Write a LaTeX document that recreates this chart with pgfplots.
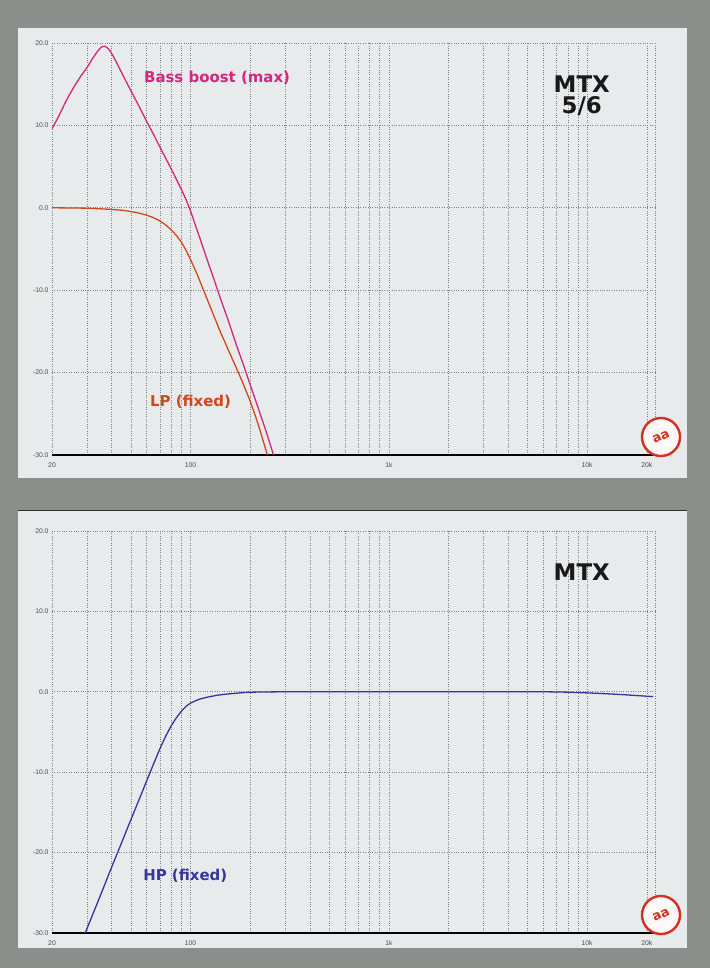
\documentclass[border=0pt]{standalone}
\usepackage{pgfplots}
\pgfplotsset{compat=1.18}
\usepackage{fontspec}
\setmainfont{Liberation Sans}
\newfontfamily\labfont{DejaVu Sans}
\definecolor{bgout}{HTML}{8C8E8C}
\definecolor{panel}{HTML}{E8EBEB}
\definecolor{bass}{HTML}{D3267E}
\definecolor{lp}{HTML}{D2461C}
\definecolor{hp}{HTML}{36369A}
\definecolor{gridc}{HTML}{7E8080}
\definecolor{logo}{HTML}{D8301E}

\pgfplotsset{
 scale only axis, width=603bp,
 xmin=20, xmax=22000, ymin=-30, ymax=20,
 xtick={20,100,1000,10000,20000}, xticklabels={20,100,1k,10k,20k},
 minor xtick={30,40,50,60,70,80,90,200,300,400,500,600,700,800,900,2000,3000,4000,5000,6000,7000,8000,9000,22000},
 ytick={-30,-20,-10,0,10,20}, yticklabels={-30.0,-20.0,-10.0,0.0,10.0,20.0},
 grid=both,
 major grid style={gridc, dotted, line width=0.6bp},
 minor grid style={gridc, dotted, line width=0.6bp},
 axis x line*=bottom, axis y line*=left,
 x axis line style={black, line width=1.3bp},
 y axis line style={draw=none},
 major tick length=0pt, minor tick length=0pt,
 tick label style={font=\fontsize{6.8}{7}\selectfont, text=black!70},
 xticklabel style={yshift=-4bp},
}

\begin{document}
\begin{tikzpicture}[x=1bp,y=1bp]
\fill[bgout] (0,0) rectangle (710,968);
\fill[panel] (18,490) rectangle (687,940);
\fill[panel] (18,20) rectangle (687,458);
\draw[black!80, line width=0.8bp] (18,458) -- (687,458);

% ---------- top panel ----------
\begin{axis}[xmode=log, height=412bp, at={(52bp,513bp)}, anchor=south west]
\addplot[bass, line width=1.3bp, smooth, tension=0.3] coordinates {
 (20,9.6) (21.5,11.0) (23.6,13.0) (26,14.8) (28,16.0) (30,17.0) (32,18.1) (34,19.0)
 (35.5,19.5) (37,19.6) (38.5,19.3) (40.5,18.5) (43,17.3) (46,15.9) (50,14.2) (55,12.3)
 (60,10.5) (66,8.6) (72,6.8) (78,5.2) (85,3.4) (90,2.2) (95,0.95) (100,-0.4) (105,-1.9)
 (110,-3.3) (120,-6.0) (130,-8.4) (140,-10.7) (155,-13.7) (170,-16.6) (185,-19.1)
 (200,-21.5) (220,-24.4) (240,-27.1) (262,-30)};
\addplot[lp, line width=1.3bp, smooth, tension=0.3] coordinates {
 (20,0) (30,-0.05) (40,-0.2) (45,-0.3) (50,-0.45) (55,-0.65) (60,-0.9) (65,-1.2)
 (70,-1.6) (75,-2.1) (80,-2.7) (85,-3.4) (90,-4.2) (95,-5.2) (100,-6.3) (108,-8.1)
 (116.6,-10.1) (128,-12.5) (141,-15) (160,-18) (178.6,-20.6) (200,-23.5) (220,-26.4) (244,-30)};
\node[anchor=east, font=\fontsize{6.8}{7}\selectfont, text=black!70, inner sep=2bp] at (axis cs:20,15) {dBRel};
\node[anchor=north, font=\fontsize{6.8}{7}\selectfont, text=black!70, yshift=-4bp] at (axis cs:13200,-30) {Hz};
\node[font=\labfont\bfseries\fontsize{15}{16}\selectfont, text=bass] at (axis cs:136,15.8) {Bass boost (max)};
\node[font=\labfont\bfseries\fontsize{15}{16}\selectfont, text=lp] at (axis cs:100,-23.5) {LP (fixed)};
\node[font=\labfont\bfseries\fontsize{23}{24}\selectfont, text=black!90, align=center] at (axis cs:9400,13.6) {MTX\\[-3bp]5/6};
\end{axis}
\draw[logo, line width=2.4bp, fill=white!90!pink] (661,531) circle (19);
\node[rotate=25, inner sep=0pt, font=\labfont\bfseries\fontsize{13}{13}\selectfont, text=logo] at (661,531) {aa};

% ---------- bottom panel ----------
\begin{axis}[xmode=log, height=402bp, at={(52bp,35bp)}, anchor=south west]
\addplot[hp, line width=1.3bp, smooth, tension=0.3] coordinates {
 (29.4,-30) (35,-25.4) (40,-21.8) (45,-18.7) (50,-15.9) (55,-13.4) (60,-11.1) (65,-9.0)
 (70,-7.1) (75,-5.5) (80,-4.2) (85,-3.2) (90,-2.4) (95,-1.8) (100,-1.4) (110,-0.95)
 (120,-0.7) (135,-0.45) (150,-0.3) (175,-0.15) (200,-0.05) (300,0) (1000,0) (3000,0)
 (6000,0) (8000,-0.05) (11500,-0.2) (15000,-0.35) (21500,-0.6)};
\node[anchor=east, font=\fontsize{6.8}{7}\selectfont, text=black!70, inner sep=2bp] at (axis cs:20,15) {dBRel};
\node[anchor=north, font=\fontsize{6.8}{7}\selectfont, text=black!70, yshift=-4bp] at (axis cs:13200,-30) {Hz};
\node[font=\labfont\bfseries\fontsize{15}{16}\selectfont, text=hp] at (axis cs:94,-22.9) {HP (fixed)};
\node[font=\labfont\bfseries\fontsize{23}{24}\selectfont, text=black!90] at (axis cs:9400,14.9) {MTX};
\end{axis}
\draw[logo, line width=2.4bp, fill=white!90!pink] (661,53) circle (19);
\node[rotate=25, inner sep=0pt, font=\labfont\bfseries\fontsize{13}{13}\selectfont, text=logo] at (661,53) {aa};
\end{tikzpicture}
\end{document}
